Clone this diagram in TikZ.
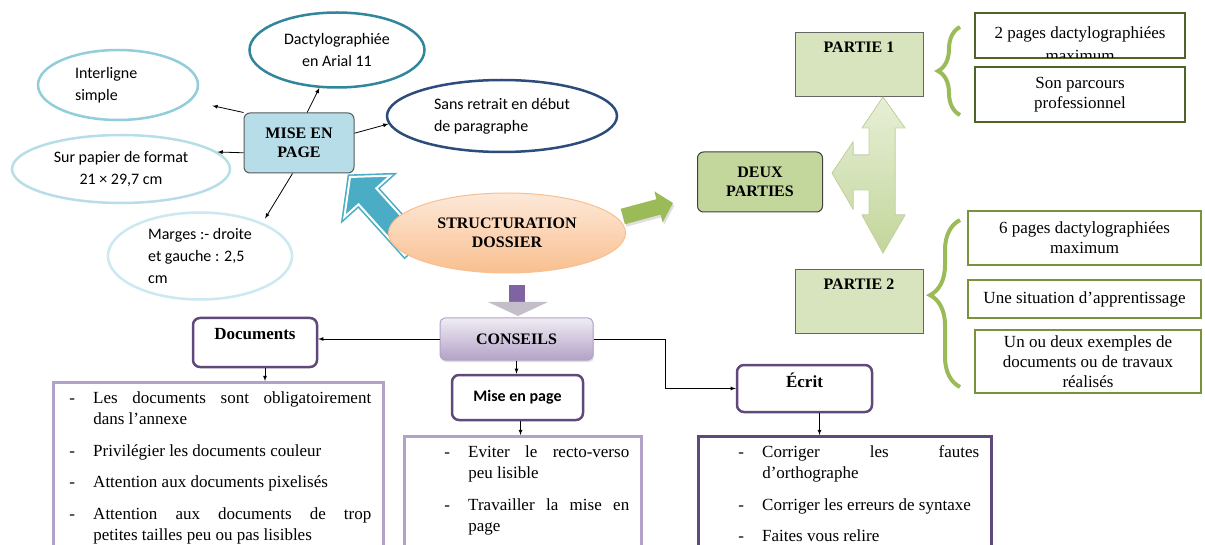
\documentclass[tikz,border=0pt]{standalone}
\usepackage{fontspec}
\setmainfont{Liberation Serif}
\newfontfamily\calibri{Carlito}
\usetikzlibrary{positioning,shapes.geometric,decorations.pathreplacing,shadows}

\definecolor{bleuciel}{HTML}{92CDDC}
\definecolor{bleupale}{HTML}{B7DEE8}
\definecolor{bleutrespale}{HTML}{CCE8F0}
\definecolor{bleucanard}{HTML}{31859C}
\definecolor{bleunuit}{HTML}{2C4D7C}
\definecolor{bleufleche}{HTML}{4BACC6}
\definecolor{bleuboite}{HTML}{B7DDE8}
\definecolor{peche}{HTML}{FDE9D9}
\definecolor{pechefonce}{HTML}{F9BF8F}
\definecolor{vertolive}{HTML}{9BBB59}
\definecolor{vertmoyen}{HTML}{C3D69B}
\definecolor{vertclair}{HTML}{D7E4BD}
\definecolor{vertfonce}{HTML}{4F6228}
\definecolor{vertherbe}{HTML}{77933C}
\definecolor{violet}{HTML}{5F497A}
\definecolor{lavande}{HTML}{B3A2C7}
\definecolor{mauve}{HTML}{8064A2}

% tiret d'une liste avec retrait suspendu
\newcommand\tiret{\par\hangindent=24pt\hangafter=1\noindent\makebox[24pt][l]{-}}
% liste justifiee : largeur, retrait gauche, items
\newcommand\listetirets[3]{\parbox[t]{#1}{\setlength\parskip{10pt}\leftskip=#2\relax
  \hyphenpenalty=10000\exhyphenpenalty=10000\tolerance=9999 #3\par\vspace*{120pt}}}

\begin{document}
\begin{tikzpicture}[x=1pt,y=-1pt,
    bulle/.style={ellipse,line width=2.5pt,fill=white,inner sep=0pt,align=center,
      font=\calibri\fontsize{16}{22}\selectfont},
    titre/.style={font=\bfseries\fontsize{16}{19}\selectfont,align=center},
    fleche/.style={-latex,line width=0.8pt},
    cadre/.style={rectangle,rounded corners=7pt,draw=violet,line width=2.5pt,fill=white,
      font=\bfseries\fontsize{17}{20}\selectfont},
    liste/.style={rectangle,draw,line width=2.5pt,anchor=north west,inner xsep=12pt,inner ysep=9pt,
      font=\fontsize{17}{21.5}\selectfont},
    boite/.style={rectangle,line width=2.5pt,fill=white,inner sep=0pt,align=center,
      font=\fontsize{17}{20}\selectfont},
    partie/.style={rectangle,fill=vertclair,draw=black!60,line width=1pt,minimum width=128,
      inner ysep=8pt,text height=12pt,text depth=36pt,font=\bfseries\fontsize{16}{19}\selectfont},
    accolade/.style={draw=vertolive,line width=4pt,decorate,decoration={brace,amplitude=22pt}}]
  \useasboundingbox (0,0) rectangle (1205,545);
  \clip (0,0) rectangle (1205,545);

  % mise en page
  \filldraw[fill=bleufleche,draw=bleufleche,line width=1.6pt,double=white,double distance=2pt,line join=miter]
    (350,177) -- (390.4,175.6) -- (376.3,188.3) -- (422.5,239.6) -- (404.7,255.6)
    -- (358.5,204.3) -- (344.4,217) -- cycle;
  \node[bulle,draw=bleuciel,minimum width=160,minimum height=70,text width=86pt,align=left] (inter) at (118,85) {Interligne\\simple};
  \node[bulle,draw=bleucanard,minimum width=175,minimum height=75] (dactylo) at (337,50) {Dactylographiée\\en Arial 11};
  \node[bulle,draw=bleunuit,minimum width=230,minimum height=72,align=left] (retrait) at (502,116) {Sans retrait en début\\de paragraphe};
  \node[bulle,draw=bleupale,minimum width=218,minimum height=68] (papier) at (121,169) {Sur papier de format\\21 × 29,7 cm};
  \node[bulle,draw=bleutrespale,minimum width=184,minimum height=87,align=left] (marges) at (200,256) {Marges :- droite\\et gauche : 2,5\\cm};
  \node[titre,rectangle,rounded corners=6pt,fill=bleuboite,draw=black!65,line width=1pt,
    minimum width=110,minimum height=60] (mep) at (299,143) {MISE EN\\PAGE};
  \draw[fleche,shorten >=22pt] (mep.north west) -- (inter);
  \draw[fleche] (mep.75) -- (dactylo.245);
  \draw[fleche] (mep.10) -- (retrait.184);
  \draw[fleche] (mep.190) -- (papier.10);
  \draw[fleche,shorten >=5pt] (mep.258) -- (marges.28);

  % centre
  \node[titre,ellipse,top color=peche,bottom color=pechefonce,draw=pechefonce,line width=1pt,
    minimum width=237,minimum height=80] (struct) at (507,233) {STRUCTURATION\\DOSSIER};
  \fill[vertolive,drop shadow={shadow xshift=1.5pt,shadow yshift=-2.5pt,fill=black!25}]
    (673,203) -- (662.6,222.4) -- (660.6,214.6) -- (624.9,224.2) -- (620.7,208.8)
    -- (656.4,199.2) -- (654.4,191.4) -- cycle;
  \fill[mauve] (509,285) rectangle (525,303);
  \fill[lavande!55!gray!60] (488,302) -- (548,302) -- (518,316) -- cycle;

  % deux parties
  \node[titre,rectangle,rounded corners=6pt,fill=vertmoyen,draw=black!75,line width=1pt,
    minimum width=125,minimum height=60] (deux) at (760,182) {DEUX\\PARTIES};
  \node[partie] (partie1) at (859,64.5) {PARTIE 1};
  \node[partie] (partie2) at (859,302) {PARTIE 2};
  \filldraw[draw=vertmoyen,top color=vertclair!60,bottom color=vertmoyen,line width=0.8pt]
    (883,97) -- (905,128) -- (895,128) -- (895,215) -- (905,215) -- (883,253) -- (862,215)
    -- (869,215) -- (869,190) -- (853,190) -- (853,209) -- (832,173) -- (853,142) -- (853,155)
    -- (869,155) -- (869,128) -- (862,128) -- cycle;
  \draw[accolade] (960,115) -- (960,27);
  \draw[accolade,decoration={aspect=0.55,amplitude=30pt}] (960,387) -- (960,220);

  \node[boite,draw=vertfonce,minimum width=210,minimum height=45] (p1a) at (1080,35.5) {};
  \begin{scope}
    \clip ([shift={(2,2)}]p1a.north west) rectangle ([shift={(-2,-2)}]p1a.south east);
    \node[align=center,font=\fontsize{17}{23}\selectfont] (p1atexte) at ([yshift=-9]p1a.center) {2 pages dactylographiées\\maximum};
  \end{scope}
  \node[boite,draw=vertfonce,minimum width=210,minimum height=55] (p1b) at (1080,94.5) {Son parcours\\professionnel};
  \node[boite,draw=vertherbe,minimum width=233,minimum height=54] (p2a) at (1084.5,238) {6 pages dactylographiées\\maximum};
  \node[boite,draw=vertherbe,minimum width=233,minimum height=38] (p2b) at (1084.5,299) {Une situation d’apprentissage};
  \node[boite,draw=vertherbe,minimum width=226,minimum height=63] (p2c) at (1088,361.5) {Un ou deux exemples de\\documents ou de travaux\\réalisés};

  % conseils
  \node[titre,rectangle,rounded corners=5pt,top color=lavande!20,bottom color=lavande,draw=lavande,
    line width=1pt,minimum width=153,minimum height=42,
    drop shadow={shadow xshift=1pt,shadow yshift=-2pt,fill=black!25}] (conseils) at (516.5,339) {CONSEILS};
  \node[cadre,minimum width=124,inner ysep=10pt,text height=12pt,text depth=17pt] (docs) at (255,342.5) {Documents};
  \node[cadre,minimum width=131,minimum height=45,font=\calibri\bfseries\fontsize{16}{19}\selectfont] (mepc) at (517.5,397.5) {Mise en page};
  \node[cadre,minimum width=135,inner ysep=10pt,text height=13pt,text depth=14pt] (ecrit) at (804.5,388.5) {Écrit};
  \draw[fleche] (conseils.west) -- (conseils.west -| docs.east);
  \draw[fleche] (conseils.south) -- (conseils.south |- mepc.north);
  \draw[fleche] (conseils.east) -- ++(72,0) |- (ecrit.west);

  \node[liste,draw=lavande] (docliste) at (52,381) {\listetirets{306pt}{4pt}{%
    \tiret Les documents sont obligatoirement\linebreak dans l’annexe
    \tiret Privilégier les documents couleur
    \tiret Attention aux documents pixelisés
    \tiret Attention aux documents de trop\linebreak petites tailles peu ou pas lisibles}};
  \node[liste,draw=lavande] (mepliste) at (403,435) {\listetirets{213pt}{28pt}{%
    \tiret Eviter le recto-verso\linebreak peu lisible
    \tiret Travailler la mise en\linebreak page}};
  \node[liste,draw=violet] (ecritliste) at (697,435) {\listetirets{269pt}{28pt}{%
    \tiret Corriger les fautes\linebreak d’orthographe
    \tiret Corriger les erreurs de syntaxe
    \tiret Faites vous relire}};
  \draw[fleche] ([xshift=10]docs.south) -- ([xshift=10]docs.south |- docliste.north);
  \draw[fleche] ([xshift=3]mepc.south) -- ([xshift=3]mepc.south |- mepliste.north);
  \draw[fleche] ([xshift=15]ecrit.south) -- ([xshift=15]ecrit.south |- ecritliste.north);
\end{tikzpicture}
\end{document}
